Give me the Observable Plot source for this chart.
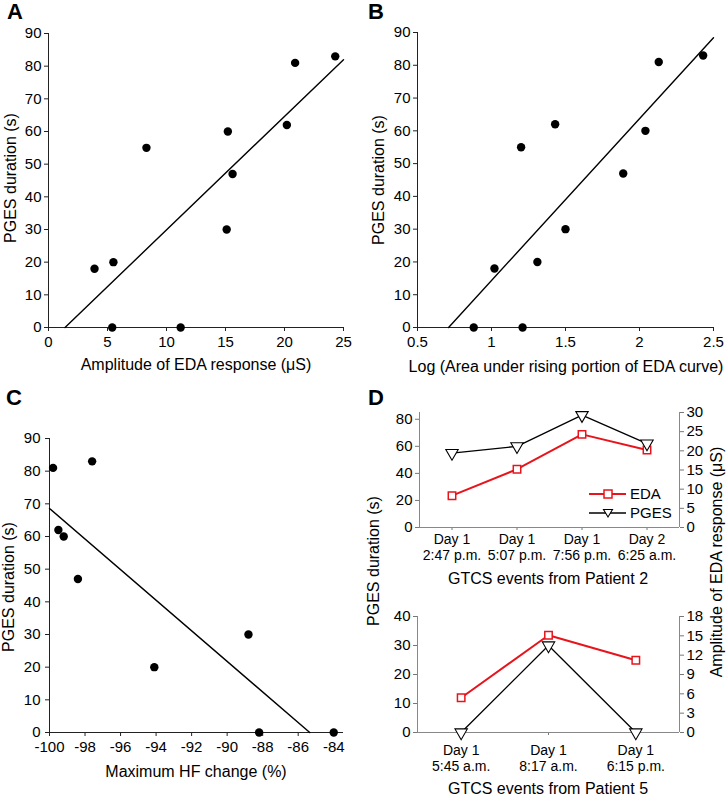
<!DOCTYPE html>
<html>
<head>
<meta charset="utf-8">
<script src="https://cdn.jsdelivr.net/npm/d3@7"></script>
<script src="https://cdn.jsdelivr.net/npm/@observablehq/plot@0.6"></script>
<style>
  html, body { margin: 0; padding: 0; background: #fff; }
  #root { position: relative; width: 727px; height: 796px; overflow: hidden; font-family: "Liberation Sans", Arial, Helvetica, sans-serif; color: #000; }
  #root svg { position: absolute; overflow: visible; }
  .txt { position: absolute; white-space: nowrap; line-height: 1; }
</style>
</head>
<body>
<div id="root"></div>
<script>
// ---------- Data ----------
// Panel A: amplitude of EDA response (µS) vs PGES duration (s)
const aEDA  = [3.9, 5.5, 5.4, 8.3, 11.2, 15.1, 15.2, 15.6, 20.2, 20.9, 24.3];
const aPGES = [18, 20, 0, 55, 0, 30, 60, 47, 62, 81, 83];
const aFitX = [1.4, 25];
const aFitY = [0, 82];
const aXTicks = [0, 5, 10, 15, 20, 25];

// Panel B: log area under rising portion of EDA curve vs PGES duration
const bLogArea = [0.88, 1.02, 1.20, 1.21, 1.31, 1.43, 1.50, 1.89, 2.04, 2.13, 2.43];
const bPGES    = [0, 18, 55, 0, 20, 62, 30, 47, 60, 81, 83];
const bFitX = [0.71, 2.5];
const bFitY = [0, 88.4];
const bXTicks = [0.5, 1, 1.5, 2, 2.5];

// Panel C: maximum HF change (%) vs PGES duration
const cHF   = [-99.8, -97.6, -99.5, -99.2, -98.4, -94.1, -88.8, -88.2, -84];
const cPGES = [81, 83, 62, 60, 47, 20, 30, 0, 0];
const cFitX = [-100, -85.35];
const cFitY = [68.6, 0];
const cXTicks = [-100, -98, -96, -94, -92, -90, -88, -86, -84];

const pgesTicks = [0, 10, 20, 30, 40, 50, 60, 70, 80, 90];

// Panel D: GTCS events
const p2Events = ["Day 1\n2:47 p.m.", "Day 1\n5:07 p.m.", "Day 1\n7:56 p.m.", "Day 2\n6:25 a.m."];
const p2EDA  = [8.3, 15.2, 24.3, 20.2];
const p2PGES = [55, 60, 83, 62];
const p2LeftTicks  = [0, 20, 40, 60, 80];
const p2RightTicks = [0, 5, 10, 15, 20, 25, 30];

const p5Events = ["Day 1\n5:45 a.m.", "Day 1\n8:17 a.m.", "Day 1\n6:15 p.m."];
const p5EDA  = [5.4, 15.1, 11.2];
const p5PGES = [0, 30, 0];
const p5LeftTicks  = [0, 10, 20, 30, 40];
const p5RightTicks = [0, 3, 6, 9, 12, 15, 18];

const EDA_COLOR = "#e8141c";
const FONT = '"Liberation Sans", Arial, Helvetica, sans-serif';

// ---------- Helpers ----------
const root = document.getElementById("root");

function place(svg, left, top) {
  svg.style.left = left + "px";
  svg.style.top = top + "px";
  root.appendChild(svg);
}

function text(str, x, y, {size = 16, rotate = 0, weight = "normal"} = {}) {
  const d = document.createElement("div");
  d.className = "txt";
  d.textContent = str;
  d.style.left = x + "px";
  d.style.top = y + "px";
  d.style.fontSize = size + "px";
  d.style.fontWeight = weight;
  d.style.transform = `translate(-50%,-50%) rotate(${rotate}deg)`;
  root.appendChild(d);
}

const fmt = d => String(d);

function scatter({xs, ys, fitX, fitY, xDomain, xTicks, left, top, width, height,
                  mLeft, mRight, mTop, mBottom, xPad, yPad = 3}) {
  const idx = xs.map((_, i) => i);
  const fidx = fitX.map((_, i) => i);
  const svg = Plot.plot({
    width, height,
    marginLeft: mLeft, marginRight: mRight, marginTop: mTop, marginBottom: mBottom,
    style: {fontFamily: FONT, fontSize: "15px", color: "#000", background: "transparent", overflow: "visible"},
    x: {domain: xDomain},
    y: {domain: [0, 90]},
    marks: [
      Plot.axisX({ticks: xTicks, tickFormat: fmt, tickSize: 4, tickPadding: xPad, fontSize: 15, label: null, stroke: "#222"}),
      Plot.axisY({ticks: pgesTicks, tickFormat: fmt, tickSize: 4, tickPadding: yPad, fontSize: 15, label: null, stroke: "#222"}),
      Plot.ruleY([0], {stroke: "#222", strokeWidth: 1}),
      Plot.ruleX([xDomain[0]], {stroke: "#222", strokeWidth: 1}),
      Plot.line(fidx, {x: i => fitX[i], y: i => fitY[i], stroke: "#000", strokeWidth: 1.4}),
      Plot.dot(idx, {x: i => xs[i], y: i => ys[i], r: 4.2, fill: "#000", stroke: null})
    ]
  });
  place(svg, left, top);
}

// ---------- Panel A ----------
scatter({xs: aEDA, ys: aPGES, fitX: aFitX, fitY: aFitY, xDomain: [0, 25], xTicks: aXTicks,
  left: 0, top: 0, width: 364, height: 380, mLeft: 48, mRight: 21, mTop: 33, mBottom: 53, xPad: 5});
text("A", 15, 12, {size: 22, weight: "bold"});
text("PGES duration (s)", 11, 178, {rotate: -90});
text("Amplitude of EDA response (\u03BCS)", 196, 365);

// ---------- Panel B ----------
scatter({xs: bLogArea, ys: bPGES, fitX: bFitX, fitY: bFitY, xDomain: [0.5, 2.5], xTicks: bXTicks,
  left: 364, top: 0, width: 363, height: 380, mLeft: 53, mRight: 14, mTop: 32, mBottom: 53, xPad: 5});
text("B", 376, 12, {size: 22, weight: "bold"});
text("PGES duration (s)", 379, 180, {rotate: -90});
text("Log (Area under rising portion of EDA curve)", 566, 367);

// ---------- Panel C ----------
scatter({xs: cHF, ys: cPGES, fitX: cFitX, fitY: cFitY, xDomain: [-100, -83.45], xTicks: cXTicks,
  left: 0, top: 380, width: 364, height: 416, mLeft: 49, mRight: 21, mTop: 58, mBottom: 64, xPad: 5, yPad: 5});
text("C", 14, 398, {size: 22, weight: "bold"});
text("PGES duration (s)", 9, 587, {rotate: -90});
text("Maximum HF change (%)", 196, 772);

// ---------- Panel D ----------
function dualPanel({events, eda, pges, leftDomain, rightDomain, leftTicks, rightTicks,
                    left, top, width, height, mLeft, mRight, mTop, mBottom, xPad}) {
  const n = events.length;
  const idx = events.map((_, i) => i);
  const xDomain = [-0.5, n - 0.5];
  const common = {
    width, height,
    marginLeft: mLeft, marginRight: mRight, marginTop: mTop, marginBottom: mBottom,
    style: {fontFamily: FONT, fontSize: "14px", color: "#000", background: "transparent", overflow: "visible"}
  };
  // EDA (right axis)
  const edaSvg = Plot.plot({
    ...common,
    x: {domain: xDomain, axis: null},
    y: {domain: rightDomain},
    marks: [
      Plot.axisY({anchor: "right", ticks: rightTicks, tickFormat: fmt, tickSize: 4, tickPadding: 3, fontSize: 15, label: null, stroke: "#777"}),
      Plot.ruleX([xDomain[1]], {stroke: "#888"}),
      Plot.line(idx, {x: i => i, y: i => eda[i], stroke: EDA_COLOR, strokeWidth: 2}),
      Plot.dot(idx, {x: i => i, y: i => eda[i], symbol: "square", r: 4.2, fill: "#fff", stroke: EDA_COLOR, strokeWidth: 1.5})
    ]
  });
  place(edaSvg, left, top);
  // PGES (left axis) + x axis
  const pgesSvg = Plot.plot({
    ...common,
    x: {domain: xDomain},
    y: {domain: leftDomain},
    marks: [
      Plot.axisX({ticks: idx, tickFormat: i => events[i], tickSize: 3, tickPadding: xPad, fontSize: 14, lineHeight: 1.15, label: null, stroke: "#777"}),
      Plot.axisY({ticks: leftTicks, tickFormat: fmt, tickSize: 4, tickPadding: 3, fontSize: 15, label: null, stroke: "#777"}),
      Plot.ruleY([leftDomain[0]], {stroke: "#888"}),
      Plot.ruleX([xDomain[0]], {stroke: "#888"}),
      Plot.line(idx, {x: i => i, y: i => pges[i], stroke: "#000", strokeWidth: 1.3}),
      Plot.dot(idx, {x: i => i, y: i => pges[i], symbol: "triangle", rotate: 180, r: 4.6, fill: "#fff", stroke: "#000", strokeWidth: 1.1})
    ]
  });
  place(pgesSvg, left, top);
}

dualPanel({events: p2Events, eda: p2EDA, pges: p2PGES, leftDomain: [0, 85], rightDomain: [0, 30],
  leftTicks: p2LeftTicks, rightTicks: p2RightTicks,
  left: 364, top: 380, width: 363, height: 220, mLeft: 55, mRight: 48, mTop: 32, mBottom: 73, xPad: 2});
dualPanel({events: p5Events, eda: p5EDA, pges: p5PGES, leftDomain: [0, 40], rightDomain: [0, 18],
  leftTicks: p5LeftTicks, rightTicks: p5RightTicks,
  left: 364, top: 600, width: 363, height: 196, mLeft: 53, mRight: 48, mTop: 16, mBottom: 64, xPad: 8});

text("D", 376, 398, {size: 22, weight: "bold"});
text("GTCS events from Patient 2", 548, 579);
text("GTCS events from Patient 5", 548, 789);
text("PGES duration (s)", 374, 561, {rotate: -90});
text("Amplitude of EDA response (\u03BCS)", 717, 562, {rotate: -90});

// Legend (panel D, top)
const ns = "http://www.w3.org/2000/svg";
const leg = document.createElementNS(ns, "svg");
leg.setAttribute("width", 90);
leg.setAttribute("height", 40);
leg.style.left = "586px";
leg.style.top = "484px";
leg.innerHTML = `
  <line x1="3" y1="10" x2="40" y2="10" stroke="${EDA_COLOR}" stroke-width="2"/>
  <rect x="18" y="6" width="8" height="8" fill="#fff" stroke="${EDA_COLOR}" stroke-width="1.5"/>
  <text x="44" y="10" dy="0.35em" font-size="15" font-family='${FONT}'>EDA</text>
  <line x1="3" y1="29" x2="40" y2="29" stroke="#000" stroke-width="1.3"/>
  <path d="M17.5,25.5 L26.5,25.5 L22,33 Z" fill="#fff" stroke="#000" stroke-width="1.1"/>
  <text x="44" y="29" dy="0.35em" font-size="15" font-family='${FONT}'>PGES</text>`;
root.appendChild(leg);
</script>
</body>
</html>
